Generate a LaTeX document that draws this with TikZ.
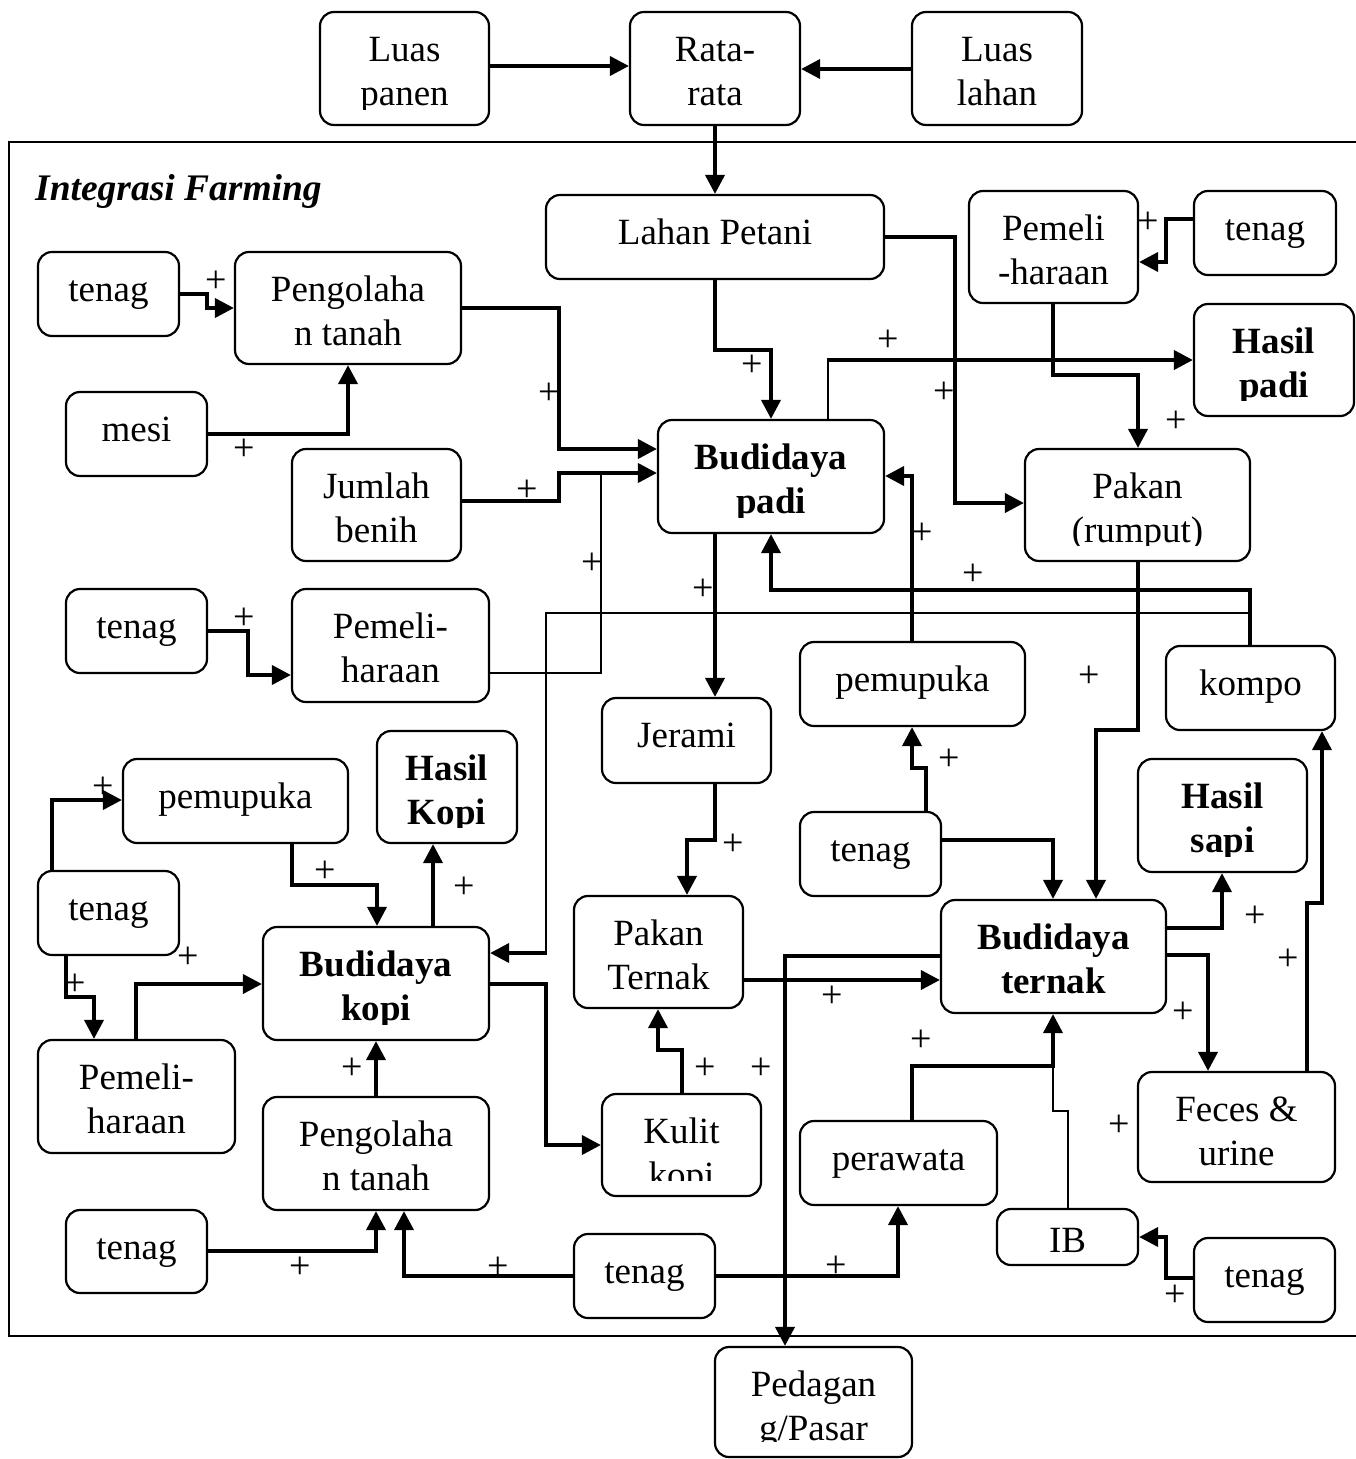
\documentclass[tikz,border=0pt]{standalone}
\usepackage{fontspec}
\setmainfont{Liberation Serif}
\usetikzlibrary{arrows.meta}
\def\clipoff{17pt}
\newcommand\boxA[7][txt]{%
  \node[bx, minimum width={#5pt-#3pt}, minimum height={#6pt-#4pt}] (#2) at ({(#3+#5)/2},{(#4+#6)/2}) {};
  \begin{scope}
    \clip (#2.north west) rectangle ([yshift=\clipoff]#2.south east);
    \node[#1, anchor=base] (#2-a) at ([yshift=-51pt]#2.north) {#7};
  \end{scope}}
\newcommand\boxB[8][txt]{%
  \node[bx, minimum width={#5pt-#3pt}, minimum height={#6pt-#4pt}] (#2) at ({(#3+#5)/2},{(#4+#6)/2}) {};
  \begin{scope}
    \clip (#2.north west) rectangle ([yshift=\clipoff]#2.south east);
    \node[#1, anchor=base] (#2-a) at ([yshift=-51pt]#2.north) {#7};
    \node[#1, anchor=base] (#2-b) at ([yshift=-94.5pt]#2.north) {#8};
  \end{scope}}
\begin{document}
\begin{tikzpicture}[x=1pt,y=-1pt,
  bx/.style={draw, line width=2.2pt, rounded corners=14pt, inner sep=0pt, fill=white},
  txt/.style={inner sep=0pt, font=\fontsize{37}{44}\selectfont},
  btxt/.style={inner sep=0pt, font=\fontsize{37}{44}\selectfont\bfseries},
  pl/.style={inner sep=0pt, font=\fontsize{38}{44}\selectfont},
  conn/.style={line width=3.8pt, -{Triangle[length=19pt,width=19pt]}},
  fine/.style={line width=2pt}]
\useasboundingbox (0,0) rectangle (1356,1459);
\draw[line width=2.2pt] (1380,142) -- (9,142) -- (9,1336) -- (1380,1336);
\node[anchor=base west, inner sep=0pt, font=\fontsize{37.5}{44}\selectfont\bfseries\itshape] (title) at (35,200) {Integrasi Farming};
% boxes
\boxB{lpn}{320}{12}{489}{125}{Luas}{panen}
\boxB{rr}{630}{12}{800}{125}{Rata-}{rata}
\boxB{ll}{912}{12}{1082}{125}{Luas}{lahan}
\boxA{lp}{546}{195}{884}{279}{Lahan Petani}
\boxB{pmA}{969}{191}{1138}{303}{Pemeli}{-haraan}
\boxA{tA}{1194}{191}{1336}{275}{tenag}
\boxB[btxt]{hp}{1194}{304}{1354}{416}{Hasil}{padi}
\boxA{tB}{38}{252}{179}{336}{tenag}
\boxB{pgA}{235}{252}{461}{364}{Pengolaha}{n tanah}
\boxA{ms}{66}{392}{207}{476}{mesi}
\boxB{jb}{292}{449}{461}{561}{Jumlah}{benih}
\boxB[btxt]{bp}{658}{420}{884}{533}{Budidaya}{padi}
\boxB{pr}{1025}{449}{1250}{561}{Pakan}{(rumput)}
\boxA{tC}{66}{589}{207}{673}{tenag}
\boxB{pmB}{292}{589}{489}{702}{Pemeli-}{haraan}
\boxA{jr}{602}{698}{771}{783}{Jerami}
\boxA{puA}{800}{642}{1025}{726}{pemupuka}
\boxA{kp}{1166}{646}{1335}{730}{kompo}
\boxA{puB}{123}{759}{348}{843}{pemupuka}
\boxB[btxt]{hk}{377}{731}{517}{843}{Hasil}{Kopi}
\boxA{tD}{800}{812}{941}{896}{tenag}
\boxB[btxt]{hs}{1138}{759}{1307}{872}{Hasil}{sapi}
\boxA{tE}{38}{871}{179}{955}{tenag}
\boxB{pt}{574}{896}{743}{1008}{Pakan}{Ternak}
\boxB[btxt]{bk}{263}{927}{489}{1040}{Budidaya}{kopi}
\boxB[btxt]{bt}{941}{900}{1166}{1013}{Budidaya}{ternak}
\boxB{pmC}{38}{1040}{235}{1153}{Pemeli-}{haraan}
\boxB{pgB}{263}{1097}{489}{1210}{Pengolaha}{n tanah}
\boxB{kk}{602}{1094}{761}{1196}{Kulit}{kopi}
\boxA{pw}{800}{1121}{997}{1205}{perawata}
{\def\clipoff{8pt}\boxB{fu}{1138}{1072}{1335}{1182}{Feces \&}{urine}}
\node[bx, minimum width=141pt, minimum height=56pt] (ib) at (1067.5,1237) {};
\begin{scope}
  \clip (ib.north west) rectangle ([yshift=13pt]ib.south east);
  \node[txt, anchor=base] (ib-a) at ([yshift=-45pt]ib.north) {IB};
\end{scope}
\boxA{tF}{1194}{1238}{1335}{1322}{tenag}
\boxA{tG}{66}{1210}{207}{1293}{tenag}
\boxA{tH}{574}{1234}{715}{1318}{tenag}
\boxB{pd}{715}{1347}{912}{1457}{Pedagan}{g/Pasar}
% connectors
\draw[conn] (lpn.east |- 0,66) -- (rr.west |- 0,66);
\draw[conn] (ll.west |- 0,69) -- (rr.east |- 0,69);
\draw[conn] (rr.south) -- (lp.north);
\draw[conn] (lp.south) |- (771,350) -- (bp.north -| 771,0);
\draw[conn] (lp.east |- 0,237) -| (955,503) -- (pr.west |- 0,503);
\draw[conn] (tA.west |- 0,219) -| (1166,262) -- (pmA.east |- 0,262);
\draw[conn] (pmA.south -| 1053,0) |- (1138,375) -- (pr.north -| 1138,0);
\draw[fine] (bp.north -| 828,0) -- (828,359);
\draw[conn] (827,360) -- (hp.west |- 0,360);
\draw[conn] (tB.east |- 0,294) -| (207,308) -- (pgA.west |- 0,308);
\draw[conn] (ms.east |- 0,434) -| (pgA.south -| 348,0);
\draw[conn] (pgA.east |- 0,308) -| (559,449) -- (bp.west |- 0,449);
\draw[conn] (jb.east |- 0,501) -| (559,473) -- (bp.west |- 0,473);
\draw[fine] (pmB.east |- 0,673) -| (601,475);
\draw[conn] (tC.east |- 0,631) -| (248,675) -- (pmB.west |- 0,675);
\draw[conn] (bp.south -| 715,0) -- (jr.north -| 715,0);
\draw[conn] (puA.north -| 912,0) |- (bp.east |- 0,476);
\draw[conn] (kp.north -| 1250,0) |- (771,590) -- (bp.south -| 771,0);
\coordinate (kbr) at (1250,613);
\coordinate (kdn) at (546,953);
\draw[fine] (kbr) -| (kdn);
\draw[conn] ([xshift=1pt]kdn) -- (bk.east |- kdn);
\draw[conn] (pr.south -| 1138,0) |- (1096,730) -- (bt.north -| 1096,0);
\draw[conn] (tD.north -| 926,0) |- (912,768) -- (puA.south -| 912,0);
\draw[conn] (tD.east |- 0,840) -| (bt.north -| 1053,0);
\draw[conn] (jr.south -| 715,0) |- (687,840) -- (pt.north -| 687,0);
\draw[conn] (pt.east |- 0,980) -- (bt.west |- 0,980);
\draw[conn] (bt.west |- 0,956) -| (pd.north -| 785,0);
\draw[conn] (bt.east |- 0,928) -| (hs.south -| 1222,0);
\draw[conn] (bt.east |- 0,955) -| (fu.north -| 1208,0);
\draw[conn] (fu.north -| 1307,0) |- (1322,903) -- (kp.south -| 1322,0);
\draw[conn] (pw.north -| 912,0) |- (1053,1066) -- (bt.south -| 1053,0);
\draw[fine] (ib.north -| 1068,0) |- (1053,1111) -- (1053,1066);
\draw[conn] (tF.west |- 0,1278) -| (1166,1237) -- (ib.east |- 0,1237);
\draw[conn] (tH.east |- 0,1276) -| (pw.south -| 898,0);
\draw[conn] (tH.west |- 0,1276) -| (pgB.south -| 404,0);
\draw[conn] (tG.east |- 0,1251) -| (pgB.south -| 376,0);
\draw[conn] (pgB.north -| 376,0) -- (bk.south -| 376,0);
\draw[conn] (bk.east |- 0,984) -| (546,1145) -- (kk.west |- 0,1145);
\draw[conn] (kk.north -| 682,0) |- (658,1050) -- (pt.south -| 658,0);
\draw[conn] (bk.north -| 433,0) -- (hk.south -| 433,0);
\draw[conn] (puB.south -| 292,0) |- (377,885) -- (bk.north -| 377,0);
\draw[conn] (tE.north -| 52,0) |- (puB.west |- 0,800);
\draw[conn] (tE.south -| 66,0) |- (94,997) -- (pmC.north -| 94,0);
\draw[conn] (pmC.north -| 136,0) |- (bk.west |- 0,984);
% plus signs
\foreach \px/\py [count=\i] in {216/282, 244/450, 549/394, 527/491, 592/564, 244/619, 752/366, 888/341, 944/393, 1148/223, 1176/422, 703/590, 922/534, 973/575, 1089/677, 949/760, 733/845, 832/997, 1255/917, 1288/960, 1183/1013, 921/1041, 1119/1126, 1175/1296, 836/1267, 498/1268, 300/1268, 352/1069, 705/1069, 761/1069, 464/888, 325/872, 103/788, 188/958, 75/985}
  \node[pl] (plus\i) at (\px,\py) {+};
\end{tikzpicture}
\end{document}
